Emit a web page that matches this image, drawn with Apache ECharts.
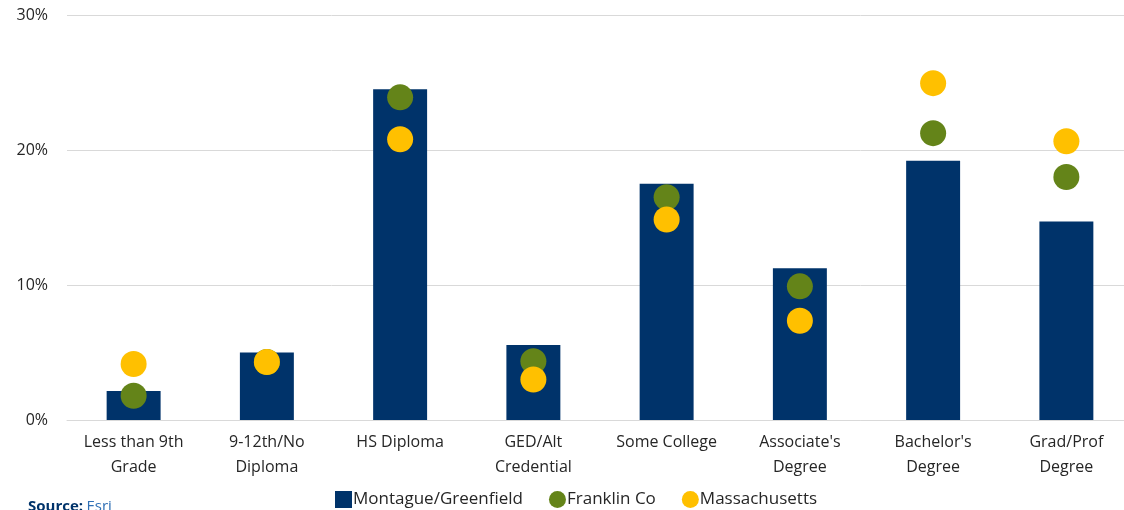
<!DOCTYPE html>
<html>
<head>
<meta charset="utf-8">
<style>html,body{margin:0;padding:0;background:#fff;}#c{width:1124px;height:510px;}</style>
<script src="https://cdn.jsdelivr.net/npm/echarts@6/dist/echarts.min.js"></script>
</head>
<body>
<div id="c"></div>
<script>
const categories = ["Less than 9th\nGrade", "9-12th/No\nDiploma", "HS Diploma", "GED/Alt\nCredential", "Some College", "Associate's\nDegree", "Bachelor's\nDegree", "Grad/Prof\nDegree"];
const montagueGreenfield = [2.15, 5.0, 24.5, 5.55, 17.5, 11.25, 19.2, 14.7];
const franklinCo = [1.8, 4.3, 23.9, 4.35, 16.5, 9.9, 21.25, 18.0];
const massachusetts = [4.15, 4.3, 20.8, 3.0, 14.85, 7.35, 24.95, 20.65];
const yTicks = [0, 10, 20, 30];

const FONT = "'Open Sans', 'Noto Sans', sans-serif";
const chart = echarts.init(document.getElementById('c'), null, {renderer: 'canvas'});
chart.setOption({
  animation: false,
  textStyle: {fontFamily: FONT},
  grid: {left: 67, width: 1066, top: 15, height: 405, containLabel: false, outerBoundsMode: 'none'},
  legend: {
    top: 491, left: 335, itemGap: 26, itemWidth: 17, itemHeight: 17, padding: 0,
    textStyle: {fontFamily: FONT, fontSize: 17, color: '#262626', padding: [0, 0, 0, -4]},
    data: [
      {name: 'Montague/Greenfield', icon: 'path://M2,2H14V14H2Z'},
      {name: 'Franklin Co', icon: 'circle'},
      {name: 'Massachusetts', icon: 'circle'}
    ]
  },
  xAxis: {
    type: 'category', data: categories,
    axisLine: {show: true, lineStyle: {color: '#d9d9d9', width: 1}},
    axisTick: {show: false},
    axisLabel: {interval: 0, fontFamily: FONT, fontSize: 16, color: '#262626', lineHeight: 25, margin: 10}
  },
  yAxis: {
    type: 'value', min: yTicks[0], max: yTicks[yTicks.length - 1], interval: 10,
    axisLine: {show: false}, axisTick: {show: false},
    splitLine: {lineStyle: {color: '#d9d9d9', width: 1}},
    axisLabel: {formatter: v => v + '%', fontFamily: FONT, fontSize: 16, color: '#262626', margin: 19}
  },
  series: [
    {name: 'Montague/Greenfield', type: 'bar', data: montagueGreenfield, barWidth: '40.5%',
     itemStyle: {color: '#00336a'}},
    {name: 'Franklin Co', type: 'scatter', data: franklinCo, symbolSize: 26,
     itemStyle: {color: '#648419', opacity: 1}, z: 3},
    {name: 'Massachusetts', type: 'scatter', data: massachusetts, symbolSize: 26,
     itemStyle: {color: '#ffc000', opacity: 1}, z: 4}
  ],
  graphic: [{
    type: 'text', left: 28, top: 499,
    style: {
      text: '{b|Source:} {n|Esri}',
      rich: {
        b: {fontFamily: FONT, fontSize: 15, fontWeight: 'bold', fill: '#00336a'},
        n: {fontFamily: FONT, fontSize: 15, fill: '#2f6fb5'}
      }
    }
  }]
});
</script>
</body>
</html>
